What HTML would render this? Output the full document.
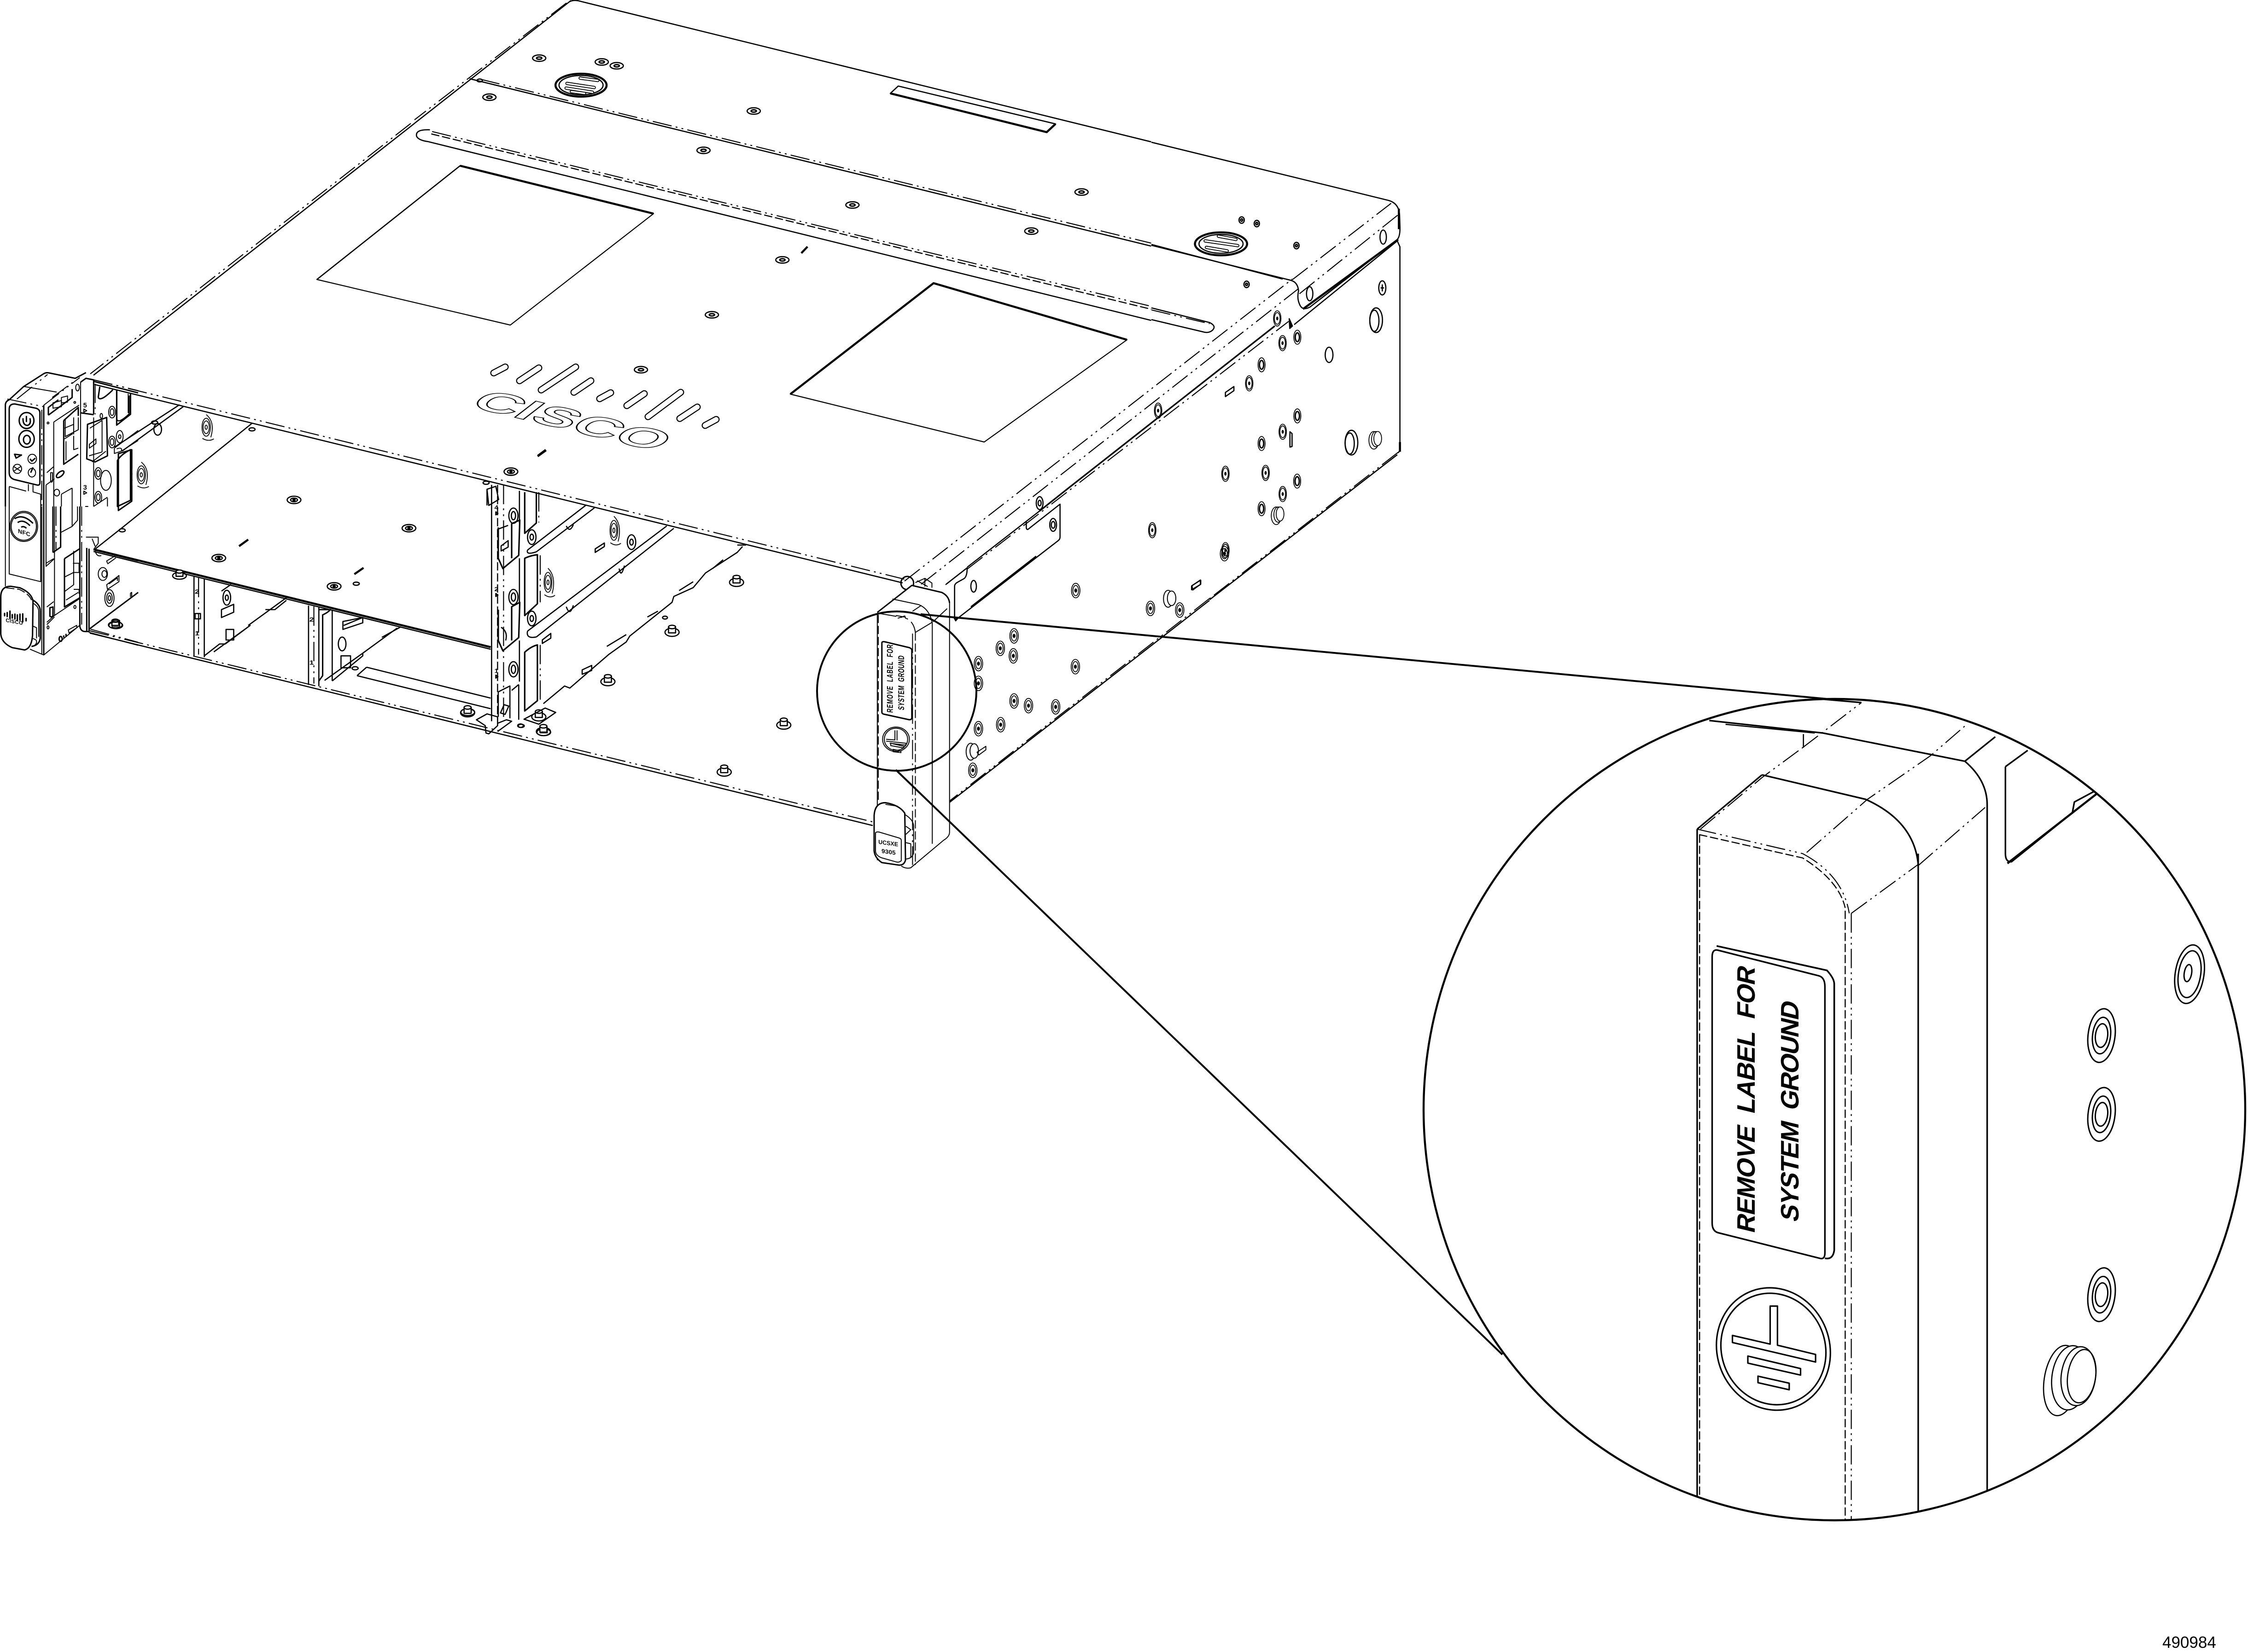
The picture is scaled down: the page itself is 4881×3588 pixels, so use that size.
<!DOCTYPE html>
<html><head><meta charset="utf-8"><style>
html,body{margin:0;padding:0;background:#fff}
svg{display:block}
svg *{vector-effect:non-scaling-stroke}
g,path,line,ellipse,circle,polygon,rect{fill:none;stroke:#000;stroke-width:2.6;stroke-linejoin:round;stroke-linecap:butt}
.t,.t *{stroke-width:4.5}
.n,.n *{stroke-width:1.8}
.c path,.c ellipse,.c polygon,.c rect{stroke-width:2}
.c .t{stroke-width:3}
.w{fill:#fff}
.k{fill:#000}
.d,.d *{stroke-dasharray:42 9 4 9 4 9;stroke-width:2.2}
.e,.e *{stroke-dasharray:18 6;stroke-width:2.4}
.pa{stroke-width:7;stroke-linecap:round}
.pb{stroke-width:3.4;stroke:#fff;stroke-linecap:round}
text{font-family:"Liberation Sans",sans-serif;fill:#000;stroke:none}
</style></head><body>
<svg xmlns="http://www.w3.org/2000/svg" width="4881" height="3588" viewBox="0 0 4881 3588">
<rect x="0" y="0" width="4881" height="3588" style="fill:#fff;stroke:none"/>
<defs>
<clipPath id="cp"><circle cx="3983" cy="2410" r="892"/></clipPath>
<g id="t6"><ellipse rx="15" ry="11"/><ellipse rx="6" ry="4" style="stroke-width:3"/></g>
<g id="s5" class="n"><ellipse rx="21" ry="26"/><ellipse rx="16" ry="20"/><ellipse rx="4" ry="5" class="k"/></g>
<g id="h5" class="n"><ellipse rx="20" ry="24"/><ellipse rx="12" ry="15" style="stroke-width:3"/></g>
<g id="b5" class="n"><ellipse cx="-8" cy="4" rx="28" ry="30"/><ellipse cx="3" cy="0" rx="24" ry="26"/><ellipse cx="14" cy="-2" rx="22" ry="24" class="w"/></g>
<g id="s3" class="n"><ellipse rx="12" ry="31"/><ellipse rx="8" ry="22"/><ellipse rx="3" ry="7" class="k"/></g>
<g id="f2"><ellipse rx="20" ry="14"/><rect x="-10" y="-18" width="20" height="20" class="w"/><ellipse cy="-18" rx="10" ry="6" class="w"/></g>
<g id="p1"><ellipse rx="18" ry="14"/><ellipse rx="9" ry="7"/><ellipse rx="3" ry="3" class="k"/></g>
<g id="f1"><ellipse rx="18" ry="13"/><rect x="-9" y="-16" width="18" height="18" class="w"/><ellipse cy="-16" rx="9" ry="6" class="w"/></g>
<g id="sw" class="n"><ellipse rx="11" ry="34"/><ellipse rx="8" ry="24"/><ellipse rx="3" ry="8"/><path d="M0,-48 Q24,-20 12,38 M-10,42 Q6,56 20,44"/></g>
</defs>

<!-- Left top edge -->
<path d="M900,268 L203,815"/><path class="d" d="M892,268 L196,812"/>

<!-- Top face Z6 -->
<g transform="translate(900,0) scale(.9566,.6378)">
<path d="M352,6 Q358,0 370,2 L1672,483"/>
<path d="M355,2 L0,420"/><path class="d" d="M345,10 L0,408"/>
<path d="M125,268 L1672,838"/><path class="d" d="M150,270 L1672,828"/>
<ellipse cx="148" cy="274" rx="6" ry="5"/>
<path d="M35,442 Q0,440 5,465 Q10,478 30,482 L1672,1091"/>
<path class="d" d="M40,448 L920,770"/><path class="e" d="M38,456 L1672,1053"/><path class="d" d="M920,770 L1672,1043"/>
<polygon points="1098,293 1455,422 1435,450 1080,318"/>
<path class="t" d="M1080,318 L1435,450 1455,422"/>
<use href="#t6" x="283" y="198"/><use href="#t6" x="425" y="211"/><use href="#t6" x="459" y="224"/><use href="#t6" x="170" y="331"/><use href="#t6" x="770" y="378"/><use href="#t6" x="656" y="512"/><use href="#t6" x="994" y="698"/><use href="#t6" x="1514" y="654"/><use href="#t6" x="1400" y="787"/><use href="#t6" x="835" y="885"/><use href="#t6" x="675" y="1072"/><use href="#t6" x="514" y="1259"/>
<ellipse cx="378" cy="290" rx="58" ry="39" class="t"/><ellipse cx="378" cy="290" rx="50" ry="33"/>
<path class="pa" d="M376,266 L416,274 M346,284 L408,298 M344,300 L404,314 M356,312 L386,318"/>
<path class="pb" d="M376,266 L416,274 M346,284 L408,298 M344,300 L404,314 M356,312 L386,318"/>
<path class="t" d="M878,862 L892,840"/><path class="t" d="M280,1552 L298,1532"/>
</g>
<polygon points="999,360 1419,464 1108,706 688,607" style="stroke-width:2.2"/>
<path class="t" d="M999,360 L1419,464"/><path d="M999,360 L688,607"/>
<polygon points="2027,615 2447,738 2137,960 1716,856" style="stroke-width:2.2"/>
<path class="t" d="M1716,856 L2027,615 2447,738"/>

<!-- Cisco logo -->
<path d="M1072,810 L1097,797 M1128,827 L1170,799 M1175,847 L1250,797 M1246,852 L1283,827 M1302,866 L1326,853 M1361,881 L1399,855 M1407,905 L1478,852 M1476,909 L1514,884 M1531,924 L1555,911" style="stroke-width:15;stroke-linecap:round"/>
<path d="M1072,810 L1097,797 M1128,827 L1170,799 M1175,847 L1250,797 M1246,852 L1283,827 M1302,866 L1326,853 M1361,881 L1399,855 M1407,905 L1478,852 M1476,909 L1514,884 M1531,924 L1555,911" style="stroke-width:10.5;stroke:#fff;stroke-linecap:round"/>
<text transform="matrix(1.29,.31,-.667,.514,1016,882)" font-size="100" font-weight="bold" style="fill:#fff;stroke:#000;stroke-width:2.4">CISCO</text>

<!-- Right rear Z5 -->
<g transform="translate(2500,300) scale(.3827,.6378)">
<path d="M0,14 L1345,212 Q1405,222 1408,262 L1410,300 Q1412,335 1395,345 L900,575 Q855,590 840,565 Q825,545 835,520 Q830,490 790,484 L0,365"/>
<path d="M0,362 L745,480"/>
<path class="d" d="M800,482 L1360,222"/>
<path class="d" d="M840,530 L1398,262"/>
<path d="M810,635 L1395,350 L1410,370 V1060 Q1410,1068 1395,1072"/>
<path class="t" d="M860,582 L1400,345"/>
<path class="t" d="M1410,1035 V1068"/><path class="t" d="M1404,240 V310"/>
<path class="d" d="M1395,1072 L330,1568"/>
<path d="M1395,1078 L330,1572"/>
<path class="k" d="M782,615 L800,640 L785,648 Z"/>
<path d="M0,578 L330,628 Q372,640 345,655 Q325,665 295,660 L0,618"/>
<path class="d" d="M0,585 L330,632"/>
<use href="#t6" x="512" y="279"/><use href="#t6" x="598" y="291"/><use href="#t6" x="823" y="366"/><use href="#t6" x="540" y="498"/>
<ellipse cx="395" cy="360" rx="148" ry="39" class="t"/><ellipse cx="395" cy="360" rx="125" ry="32"/>
<path class="pa" d="M380,334 L480,345 M305,350 L490,366 M312,372 L430,384"/>
<path class="pb" d="M380,334 L480,345 M305,350 L490,366 M312,372 L430,384"/>
<use href="#s5" x="714" y="614"/><use href="#s5" x="744" y="698"/><use href="#h5" x="828" y="678"/><use href="#h5" x="625" y="772"/><use href="#s5" x="555" y="835"/><use href="#h5" x="828" y="946"/><use href="#s5" x="745" y="1000"/><use href="#h5" x="625" y="1040"/><use href="#s5" x="420" y="1143"/><use href="#s5" x="648" y="1140"/><use href="#h5" x="827" y="1168"/><use href="#s5" x="745" y="1212"/><use href="#h5" x="625" y="1262"/><use href="#s5" x="420" y="1403"/><use href="#s5" x="38" y="928"/><use href="#s5" x="5" y="1335"/>
<use href="#b5" x="716" y="1282"/><use href="#b5" x="1270" y="1025"/>
<ellipse cx="1135" cy="1037" rx="36" ry="42"/><ellipse cx="1125" cy="1040" rx="26" ry="36"/><ellipse cx="1275" cy="620" rx="36" ry="42"/><ellipse cx="1265" cy="622" rx="26" ry="36"/>
<ellipse cx="1008" cy="738" rx="22" ry="26"/><ellipse cx="898" cy="530" rx="18" ry="24"/><ellipse cx="1315" cy="337" rx="18" ry="24"/>
<ellipse cx="1310" cy="510" rx="20" ry="24"/><path d="M1300,510 H1320 M1310,498 V522"/>
<path d="M420,866 L468,846 V860 L420,880 Z"/><path d="M786,1000 L798,1006 V1050 L786,1052 Z"/><path d="M228,1525 L278,1505 V1520 L228,1538 Z"/>
</g>

<!-- Long edges -->
<path class="d" d="M203,825 L1964,1258"/>
<path d="M205,835 L1960,1266"/>
<path class="d" d="M195,1370 L1895,1785"/>
<path d="M195,1375 L1895,1793"/>
<path class="d" d="M1964,1262 L2806,606"/>
<path class="d" d="M2000,1269 L2818,628"/>
<path d="M2100,1232 L2257,1110"/><path class="t" d="M2257,1110 L2320,1060" style="stroke-width:3.4"/>
<path d="M2320,1060 L2768,708" style="stroke-width:3.4"/>
<path class="d" d="M2100,1236 L2798,698"/>
<path class="d" d="M2000,1367 L2060,1320"/><path class="d" d="M2053,1270 L2100,1233"/>
<path class="d" d="M2626,1300 L2060,1741"/><path d="M2626,1304 L2060,1744"/>

<!-- Bracket -->
<g transform="translate(2000,1060) scale(.3333)">
<path d="M218,855 V640 Q218,625 235,615 L280,590 Q300,575 300,520 L165,625"/>
<path class="k" d="M215,845 L240,848 L225,865 Z"/>
<path d="M230,855 L890,345 Q905,335 905,320 V105 L695,270 Q685,270 685,255 V220"/>
<path class="t" d="M325,775 L750,445" style="stroke-width:3.6"/>
<ellipse cx="342" cy="640" rx="18" ry="38"/>
<ellipse cx="860" cy="240" rx="22" ry="42"/><ellipse cx="860" cy="240" rx="12" ry="22"/>
<ellipse cx="772" cy="98" rx="22" ry="42"/><ellipse cx="772" cy="98" rx="10" ry="18"/>
</g>

<!-- Bay center Z1 -->
<g transform="translate(0,750) scale(.8291,.574)">
<path d="M660,295 L320,690 250,770"/>
<path class="t" d="M245,772 L1285,1142"/><path d="M245,780 L1285,1150"/>
<use href="#p1" x="770" y="585"/><use href="#p1" x="1071" y="692"/><use href="#p1" x="573" y="805"/><use href="#p1" x="875" y="912"/><use href="#p1" x="1338" y="478"/>
<ellipse cx="933" cy="902" rx="8" ry="6"/><ellipse cx="660" cy="318" rx="8" ry="6"/><ellipse cx="320" cy="700" rx="8" ry="6"/><ellipse cx="1273" cy="520" rx="8" ry="6"/><ellipse cx="405" cy="292" rx="8" ry="6"/>
<path class="t" d="M626,760 L650,735 M928,866 L952,842 M1408,420 L1430,397"/>
<use href="#sw" x="540" y="310"/><use href="#sw" x="370" y="490"/>
<path d="M300,385 L470,225 M320,400 L480,232"/>
<ellipse cx="413" cy="318" rx="10" ry="22"/>
<path d="M306,170 V280 Q310,298 338,260 V190"/><path class="d" d="M342,185 V270"/>
<path class="t" d="M310,410 V625 L345,590 V395 Z" style="stroke-width:3"/>
<use href="#f1" x="470" y="872"/>
<use href="#f1" x="302" y="1058"/>
<path d="M508,875 V1175 M535,885 V1180"/><path class="d" d="M520,880 V1170"/>
<text x="510" y="940" font-size="22" font-weight="bold">2</text><text x="510" y="1098" font-size="22" font-weight="bold">1</text>
<rect x="511" y="1015" width="14" height="20"/>
<path d="M580,930 L605,905 M580,1030 V1000 L612,980 V1010 Z"/>
<ellipse cx="594" cy="955" rx="10" ry="28"/><ellipse cx="594" cy="955" rx="4" ry="10"/>
<path d="M535,1175 L575,1130 590,1130 655,1060 L560,1160"/>
<rect x="592" y="1075" width="20" height="40"/>
<path d="M650,1060 L750,955 M695,1000 L720,1000 L750,965"/>
<path d="M808,985 V1285 M835,990 V1290"/><path class="d" d="M822,988 V1280"/>
<text x="810" y="1045" font-size="22" font-weight="bold">2</text><text x="810" y="1208" font-size="22" font-weight="bold">1</text>
<path class="t" d="M835,1000 H865 Q860,1010 845,1020 V1250 L835,1270" style="stroke-width:3"/>
<path d="M870,1000 V1270"/><ellipse cx="896" cy="1130" rx="10" ry="26"/>
<path d="M900,1060 L950,1030 M898,1075 V1045 L950,1030 V1050 Z"/>
<rect x="893" y="1175" width="25" height="45"/>
<path d="M850,1268 L950,1165 L950,1175 L870,1270"/>
<path d="M950,1165 L1040,1070 M1000,1105 L1050,1065"/>
<path d="M960,1218 L1285,1335 M935,1250 L960,1218 M935,1250 L1285,1375"/>
<ellipse cx="930" cy="1222" rx="8" ry="6"/>
<use href="#f1" x="1225" y="1388"/><use href="#f1" x="1424" y="1464"/>
<ellipse cx="1365" cy="1440" rx="8" ry="6"/>
</g>

<!-- Right bay Z2 -->
<g transform="translate(1000,900) scale(.7653,.6378)">
<path d="M88,240 V1045"/><path class="e" d="M105,240 V1040"/><path class="d" d="M122,240 V1035"/><path d="M167,260 V370 M167,490 V640 M167,770 V910 M165,920 V1040"/>
<path d="M75,255 L100,245 108,290 80,310 Z M75,255 V310"/>
<path style="stroke-width:3.2" d="M107,385 V490 L120,525 165,480 168,360 145,372 V490"/>
<path d="M108,390 L135,378 M115,448 L135,430 V452 L115,465 Z"/>
<path style="stroke-width:3.2" d="M107,665 V770 L120,805 165,760 168,640 145,655 V770"/>
<path d="M115,725 Q135,740 128,770"/>
<path d="M107,945 V1030 M107,945 L140,925 V1035 M165,920 L145,940"/>
<rect x="118" y="990" width="14" height="30" transform="rotate(20 125 1005)"/>
<ellipse cx="150" cy="345" rx="13" ry="26"/><ellipse cx="150" cy="345" rx="6" ry="14"/>
<ellipse cx="150" cy="622" rx="13" ry="26"/><ellipse cx="150" cy="622" rx="6" ry="14"/>
<ellipse cx="150" cy="868" rx="13" ry="26"/><ellipse cx="150" cy="868" rx="6" ry="14"/>
<text x="96" y="324" font-size="20" font-weight="bold">4</text><text x="96" y="602" font-size="20" font-weight="bold">2</text><text x="96" y="880" font-size="20" font-weight="bold">1</text>
<path d="M100,332 L106,337 L100,342 Z M100,610 L106,615 L100,620 Z M100,888 L106,893 L100,898 Z"/>
<path style="stroke-width:3.2" d="M182,265 V405 L215,370 V265"/><path class="d" d="M222,265 V368"/>
<path style="stroke-width:3.2" d="M182,490 V685 L218,645 V478 Q200,480 182,490 Z"/><path class="d" d="M226,480 V640"/>
<path style="stroke-width:3.2" d="M182,810 V1010 L218,975 V785 Q200,790 182,810 Z"/><path class="d" d="M226,785 V975"/>
<path d="M190,462 L355,310 M215,468 L380,318 M190,462 Q185,480 215,468"/>
<path d="M190,738 L585,380 M215,758 L605,388 M190,738 Q185,765 215,758"/>
<path d="M300,380 Q310,405 320,375 M450,525 Q455,560 465,515 M300,655 Q310,690 320,650"/>
<use href="#sw" x="435" y="395"/><use href="#sw" x="248" y="572"/>
<ellipse cx="485" cy="435" rx="12" ry="25"/><ellipse cx="485" cy="435" rx="5" ry="10"/>
<ellipse cx="202" cy="418" rx="12" ry="25"/><ellipse cx="202" cy="418" rx="5" ry="10"/>
<ellipse cx="202" cy="695" rx="12" ry="25"/><ellipse cx="202" cy="695" rx="5" ry="10"/>
<path d="M382,458 L408,438 V450 L382,470 Z M232,768 L256,746 V762 L232,780 Z"/>
<path d="M235,985 L295,925 310,932 420,818 470,775 480,755 600,640 605,620 660,590 695,540 785,470 800,450 M785,445 L810,445"/>
<path d="M345,870 L372,855 V872 L345,885 Z M415,790 L470,750 M530,690 L560,670 M620,600 L660,570 M715,525 L745,495"/>
<use href="#f2" x="783" y="572"/><use href="#f2" x="600" y="742"/><use href="#f2" x="418" y="910"/><use href="#f2" x="917" y="1058"/><use href="#f2" x="748" y="1218"/><use href="#f2" x="235" y="1080"/><use href="#f2" x="222" y="1030"/><use href="#f2" x="20" y="1016"/>
<ellipse cx="580" cy="692" rx="7" ry="5"/><ellipse cx="170" cy="1060" rx="8" ry="6"/>
<path d="M180,1038 L240,1000 270,1015 222,1055 Z"/>
<path d="M45,1040 L75,1020 105,1030 105,1060 L80,1088 72,1085 70,1060 Z"/>
<path d="M105,1052 L130,1040 145,1045 105,1080"/>
</g>

<!-- Left cap Z8 -->
<g class="c" transform="translate(0,800) scale(.3333)">
<path class="t" d="M35,900 V240 Q35,215 60,205 L155,118 L285,35 Q300,25 320,30 L490,65 L560,28"/>
<path class="d" d="M110,200 L310,40"/><path d="M155,118 L370,155"/>
<path class="d" d="M48,200 L285,250"/><path class="d" d="M285,240 L520,60"/><path class="d" d="M340,190 L475,90"/>
<path class="t" d="M60,265 Q60,232 95,232 L235,260 Q260,268 260,290 V745 Q260,765 240,760 L95,725 Q60,715 60,680 Z"/>
<ellipse cx="173" cy="340" rx="48" ry="52" class="t"/><ellipse cx="173" cy="460" rx="50" ry="55" class="t"/><ellipse cx="175" cy="465" rx="22" ry="28" class="t"/>
<path class="t" d="M150,325 Q148,370 178,372 Q205,365 195,325 M172,310 V350"/>
<ellipse cx="210" cy="590" rx="28" ry="30"/><path class="t" d="M195,590 L208,605 L230,585"/>
<ellipse cx="113" cy="655" rx="28" ry="30"/><path d="M90,640 L135,670 M135,640 L90,670"/>
<ellipse cx="208" cy="680" rx="24" ry="28"/><path class="t" d="M215,645 L200,680"/>
<path class="t" d="M95,560 L140,565 L105,585 Z"/>
<path d="M60,770 L170,800 M60,770 V900 M185,755 V800 M215,760 V805 L265,820 V900"/>
<path class="t" d="M285,240 V900"/><path class="d" d="M272,270 V900"/>
<path d="M300,760 V900 M300,760 L355,720 M305,680 L350,640"/>
<path d="M350,350 L515,240 M350,350 V900"/>
<path class="t" d="M315,305 L470,190 V135 M315,305 V255 L380,205"/>
<path d="M345,225 L400,210 V250 L345,260 Z"/><path d="M400,190 L440,180 V220 L400,225 Z"/>
<ellipse cx="505" cy="125" rx="12" ry="22"/>
<path class="t" d="M415,340 V625 L510,560 M415,340 L510,255 V310"/>
<path d="M425,330 V445 L510,400 V320 M430,475 V600 M480,320 V430 M480,440 V530 L510,520 M420,390 L480,365 M420,460 L475,425"/>
<ellipse cx="392" cy="690" rx="30" ry="14" transform="rotate(-40 392 690)" class="t"/>
<path d="M400,820 L470,780 M400,820 V900 M470,780 V900"/>
<ellipse cx="370" cy="810" rx="18" ry="22"/>
<path d="M330,680 V740 Q338,745 342,735 V680 Z"/>
<ellipse cx="313" cy="356" rx="6" ry="6"/><ellipse cx="487" cy="222" rx="6" ry="6"/>
<path class="w" d="M525,900 V90 L560,65 L600,70 L610,300 L525,290 Z" style="fill:#fff;stroke:none"/>
<path class="t" d="M525,90 L560,65 L610,75 V300"/><path d="M525,90 V900 M610,320 V900"/>
<path class="d" d="M620,100 V300"/>
<text x="542" y="255" font-size="44" font-weight="bold">5</text><text x="542" y="790" font-size="44" font-weight="bold">3</text>
<path d="M546,265 L565,276 L546,286 Z M546,800 L565,811 L546,821 Z"/>
<path class="t" d="M525,290 L610,302"/>
<path class="t" d="M610,85 L900,160"/><path class="d" d="M610,75 L900,145"/>
<path class="t" d="M640,190 L650,120 M640,190 Q655,220 735,140"/>
<ellipse cx="730" cy="285" rx="22" ry="38"/><ellipse cx="730" cy="285" rx="12" ry="22"/>
<ellipse cx="730" cy="480" rx="22" ry="38"/><ellipse cx="730" cy="480" rx="12" ry="22"/>
<ellipse cx="640" cy="685" rx="22" ry="38"/><ellipse cx="640" cy="685" rx="12" ry="22"/>
<ellipse cx="640" cy="840" rx="22" ry="38"/><ellipse cx="640" cy="840" rx="12" ry="22"/>
<ellipse cx="780" cy="445" rx="22" ry="40"/><ellipse cx="780" cy="445" rx="8" ry="12"/>
<ellipse cx="690" cy="730" rx="35" ry="65"/><ellipse cx="660" cy="310" rx="8" ry="16"/>
<path class="t" d="M760,140 V370 L850,300 V160"/><path class="d" d="M835,165 V300"/>
<path class="t" d="M570,365 L695,320 L700,570 L620,610 L565,590 Z"/><path d="M585,390 L665,340 V545 M580,570 L665,545 M600,610 L690,540"/>
<polygon points="582,495 625,460 625,490 582,520"/>
<path d="M745,520 L900,405 M790,540 L900,470 M745,520 V555 L790,540 Q800,510 760,525"/>
<path class="t" d="M765,600 Q790,560 850,530 V860 L765,900 Z"/><path class="d" d="M860,530 V860"/>
<path d="M610,900 L700,840"/><path d="M700,845 V900"/>
</g>

<!-- Left cap Z9 -->
<g class="c" transform="translate(0,1100) scale(.3333)">
<path d="M35,0 V520 M60,0 V440 L265,490 V0"/>
<path d="M272,0 V960"/><path class="t" d="M285,0 V968"/>
<ellipse cx="155" cy="130" rx="90" ry="98"/><ellipse cx="155" cy="130" rx="82" ry="90"/>
<path class="t" d="M95,80 Q150,45 215,110 M115,105 Q150,80 195,125 M138,135 Q155,125 172,142"/>
<text transform="matrix(1,.3,0,1,117,172)" font-size="38" font-weight="bold" style="letter-spacing:1px">NFC</text>
<path d="M300,0 V390 L355,340 V0 M300,370 L350,340"/>
<path class="t" d="M345,0 V300 M395,0 V265 L345,300"/><path class="d" d="M365,0 V280"/>
<path d="M395,170 L470,130 V0 M505,0 V90 L470,130"/>
<path d="M355,340 V710 L520,600"/>
<path class="t" d="M420,340 L520,275 M420,340 V655 L520,595"/>
<path d="M480,290 V510 L420,555 M475,370 H515 V430 H475 M420,460 L480,430 M480,540 H515 V570 M430,610 L510,560"/>
<path d="M305,655 L350,620 M305,770 L355,720 M305,755 L355,710"/>
<path class="t" d="M325,660 V715 Q335,725 345,712 V655 Z"/>
<path class="t" d="M520,0 V780 Q525,815 555,815 H580"/><path class="d" d="M532,0 V770"/>
<path d="M195,930 L285,968 L525,770"/>
<path class="t" d="M565,270 V810"/><path class="t" d="M580,275 V815"/>
<path class="t" d="M620,285 L900,355"/><path d="M620,290 Q630,330 660,320"/>
<path class="t" d="M580,800 L900,560"/>
<path d="M580,800 V820 L900,905"/><path class="d" d="M590,800 L900,885"/>
<path d="M700,370 L695,355 L750,322 M700,375 L755,335"/>
<path d="M695,510 L775,450 V490 L700,540 Z M710,505 L765,465 V485"/>
<ellipse cx="670" cy="440" rx="30" ry="42"/><ellipse cx="680" cy="440" rx="16" ry="22"/>
<ellipse cx="713" cy="597" rx="30" ry="55"/><ellipse cx="713" cy="597" rx="18" ry="34"/><ellipse cx="713" cy="597" rx="8" ry="16"/>
<path d="M850,590 V565 L858,560 V590"/>
<ellipse cx="755" cy="775" rx="45" ry="22"/><rect x="730" y="745" width="50" height="40"/><ellipse cx="755" cy="745" rx="25" ry="8"/>
<path d="M555,0 L575,0 M560,200 H640 V240 L610,280 M600,210 L620,260"/>
<polygon points="445,805 500,775 500,790 450,825"/>
<ellipse cx="395" cy="863" rx="10" ry="16" class="t"/><path class="t" d="M415,840 V855 M430,830 V848"/>
<ellipse cx="313" cy="788" rx="6" ry="10"/><ellipse cx="488" cy="655" rx="7" ry="10"/>
<path d="M215,610 Q262,640 262,680 L262,860 Q255,905 205,912" class="t"/>
<path d="M215,630 Q250,650 252,680 V850"/>
<path d="M215,780 L238,790 V860 M215,860 L235,870 Q245,890 225,905"/>
<path class="t" style="fill:#fff" d="M5,590 Q5,520 70,520 L130,530 Q210,565 215,620 L212,840 Q205,925 160,935 L80,920 Q10,890 5,830 Z"/>
<path class="e" d="M40,530 L125,540 Q190,570 205,610"/>
<path d="M30,697 V712 M47,692 V717 M65,682 V730 M80,705 V727 M97,702 V733 M113,707 V743 M130,702 V740 M148,700 V752 M170,730 V745" style="stroke-width:3.2;stroke-linecap:round"/>
<text transform="matrix(1,.18,0,1,37,752)" font-size="34" font-weight="bold" style="letter-spacing:1px">CISCO</text>
</g>

<!-- Right cap Z3 -->
<g class="c" transform="translate(1800,1200) scale(.7653,.5102)">
<ellipse cx="222" cy="130" rx="18" ry="28" class="t"/>
<path style="fill:#fff;stroke:none" d="M137,258 L235,140 L320,170 Q340,185 342,215 V1190 L230,1342 Q220,1348 205,1335 L137,1310 Z"/>
<path d="M245,128 L272,110 L292,130 V150 M272,110 V145 M250,120 L280,145"/>
<path class="t" d="M137,255 L235,140 L320,170 Q340,185 342,215"/>
<path d="M342,215 V1190 Q342,1210 325,1225 L232,1342 Q220,1348 205,1335"/>
<path d="M180,198 L255,222 Q285,240 293,300 V1240"/>
<path d="M137,258 V1310"/><path class="e" d="M140,265 V1065"/>
<path class="d" d="M137,258 L215,278 Q240,290 245,340"/>
<path class="d" d="M237,345 V1330"/><path class="e" d="M245,340 V1330"/>
<path class="d" d="M245,340 L295,295 M295,295 L340,232 M237,250 L262,225"/>
<path d="M195,280 L215,270 L218,282 M190,268 L215,275"/>
<path class="t" d="M150,385 Q150,378 158,380 L228,405 Q235,410 235,415 V705 Q233,714 225,711 L155,688 Q150,686 150,680 Z"/>
<text transform="matrix(0,-1,1,.2,181,683)" font-size="24" font-weight="bold" textLength="290" lengthAdjust="spacing">REMOVE&#160;&#160;LABEL&#160;&#160;FOR</text>
<text transform="matrix(0,-1,1,.2,213,672)" font-size="24" font-weight="bold" textLength="232" lengthAdjust="spacing">SYSTEM&#160;&#160;GROUND</text>
<ellipse cx="190" cy="795" rx="38" ry="52"/><ellipse cx="190" cy="795" rx="33" ry="47"/>
<path d="M187,757 V800 M193,757 V800 M162,795 L187,798 M162,803 L218,812 L218,820 L172,812 M175,812 L212,825 L212,832 L175,822 Z M182,838 L204,845 L204,852 L182,848 Z"/>
<path class="t" style="fill:#fff" d="M128,1120 Q130,1065 160,1065 Q200,1075 215,1110 L217,1310 Q212,1335 195,1330 L150,1320 Q130,1300 128,1270 Z"/>
<path d="M160,1072 L195,1080"/>
<path d="M215,1115 Q242,1140 240,1170 V1280 Q235,1305 215,1305 M218,1165 L232,1180 L218,1200 M218,1235 L232,1240 V1300"/>
<path d="M132,1195 Q132,1188 142,1190 L198,1215 Q205,1218 205,1225 V1312 Q198,1322 188,1316 L150,1300 Q132,1290 132,1270 Z"/>
<text transform="matrix(1,.2,0,1.25,140,1240)" font-size="20" font-weight="bold" textLength="56" lengthAdjust="spacingAndGlyphs">UCSXE</text>
<text transform="matrix(1,.2,0,1.25,149,1279)" font-size="20" font-weight="bold" textLength="40" lengthAdjust="spacingAndGlyphs">9305</text>
<use href="#s3" x="700" y="162"/><use href="#s3" x="912" y="238"/><use href="#s3" x="995" y="245"/><use href="#s3" x="525" y="355"/><use href="#s3" x="486" y="408"/><use href="#s3" x="523" y="440"/><use href="#s3" x="424" y="473"/><use href="#s3" x="424" y="557"/><use href="#s3" x="699" y="486"/><use href="#s3" x="525" y="632"/><use href="#s3" x="566" y="652"/><use href="#s3" x="643" y="657"/><use href="#s3" x="424" y="750"/><use href="#s3" x="487" y="733"/><use href="#s3" x="408" y="927"/><use href="#s3" x="1122" y="5"/>
<ellipse cx="962" cy="197" rx="13" ry="36"/><ellipse cx="972" cy="195" rx="12" ry="31" class="w"/>
<ellipse cx="402" cy="848" rx="13" ry="36"/><ellipse cx="412" cy="845" rx="12" ry="31" class="w"/>
<path d="M420,850 L445,825 V840 L425,862 Z"/>
<path d="M1030,140 L1055,118 V135 L1032,160 Z"/>
</g>

<!-- Callouts -->
<circle cx="1947" cy="1501" r="173" style="stroke-width:4"/>
<path d="M1999,1334 L4041,1525" style="stroke-width:4"/>
<path d="M1945,1672 L3262,2942" style="stroke-width:4"/>

<!-- Magnified circle -->
<circle cx="3983" cy="2410" r="892" class="w" style="fill:#fff;stroke-width:4.4"/>
<g clip-path="url(#cp)"><g transform="translate(3500,1500) scale(.8807,1.1798)">
<path d="M240,55 L520,78 L870,130 Q925,165 925,210 V1480" style="stroke-width:3.4"/>
<path d="M280,62 L500,78"/>
<path d="M0,0 L280,0 L615,22" style="stroke-width:3.4"/>
<path d="M755,300 V1510" style="stroke-width:3.4"/>
<path d="M370,155 L625,200 Q745,240 755,320" style="stroke-width:3.4"/>
<path d="M210,255 L370,155" style="stroke-width:3.4"/><path class="d" d="M218,255 L370,160 L470,105"/>
<path class="e" d="M216,265 V1490"/><path d="M210,255 V1490" style="stroke-width:3.4"/>
<path class="d" d="M210,255 L470,300 Q570,340 585,410"/><path class="e" d="M215,265 L470,308 Q560,350 575,400"/>
<path class="e" d="M575,405 V1530"/><path class="d" d="M590,410 V1530"/>
<path class="d" d="M590,410 L755,320 M755,322 L920,215 M480,298 L630,200 L785,120 L875,62 M470,105 L615,22"/>
<path d="M472,80 V105"/><path d="M870,130 L945,85" style="stroke-width:3.4"/>
<path d="M970,140 L1025,110 M970,140 V300 Q970,316 985,315 L1135,225 L1140,205 L1190,185" style="stroke-width:3.4"/>
<path d="M975,318 L1195,190" style="stroke-width:4.5"/>
<path d="M258,470 L530,515 Q548,530 548,540 V1030 Q545,1048 525,1045" style="stroke-width:3.6"/>
<path d="M247,490 Q247,475 262,478 L510,525 Q525,528 525,545 V1035 Q525,1048 512,1045 L262,998 Q247,995 247,980 Z" style="stroke-width:3.4"/>
<ellipse cx="398" cy="1212" rx="141" ry="112" transform="rotate(8 398 1212)" style="stroke-width:3.2"/>
<ellipse cx="398" cy="1212" rx="130" ry="102" transform="rotate(8 398 1212)" style="stroke-width:3.2"/>
<path d="M390,1133 H408 V1205 L502,1222 V1236 L297,1200 V1187 L390,1203 Z" style="stroke-width:3.2"/>
<path d="M335,1225 L465,1248 V1260 L335,1238 Z M360,1262 L437,1275 V1287 L360,1274 Z" style="stroke-width:3.2"/>
<g>
<ellipse cx="1207" cy="635" rx="33" ry="50" transform="rotate(12 1207 635)" style="stroke-width:3"/><ellipse cx="1207" cy="635" rx="22" ry="34" transform="rotate(12 1207 635)" style="stroke-width:3"/><ellipse cx="1207" cy="635" rx="15" ry="22" transform="rotate(12 1207 635)" style="stroke-width:3"/>
<ellipse cx="1207" cy="780" rx="33" ry="50" transform="rotate(12 1207 780)" style="stroke-width:3"/><ellipse cx="1207" cy="780" rx="22" ry="34" transform="rotate(12 1207 780)" style="stroke-width:3"/><ellipse cx="1207" cy="780" rx="15" ry="22" transform="rotate(12 1207 780)" style="stroke-width:3"/>
<ellipse cx="1207" cy="1112" rx="33" ry="50" transform="rotate(12 1207 1112)" style="stroke-width:3"/><ellipse cx="1207" cy="1112" rx="22" ry="34" transform="rotate(12 1207 1112)" style="stroke-width:3"/><ellipse cx="1207" cy="1112" rx="15" ry="22" transform="rotate(12 1207 1112)" style="stroke-width:3"/>
<ellipse cx="1424" cy="522" rx="35" ry="55" transform="rotate(15 1424 522)" style="stroke-width:3"/><ellipse cx="1424" cy="522" rx="27" ry="44" transform="rotate(15 1424 522)" style="stroke-width:3"/><ellipse cx="1420" cy="520" rx="9" ry="16" transform="rotate(15 1420 520)" style="stroke-width:3"/>
<ellipse cx="1108" cy="1270" rx="42" ry="66" transform="rotate(15 1108 1270)"/>
<ellipse cx="1130" cy="1265" rx="45" ry="60" transform="rotate(15 1130 1265)" style="fill:#fff"/>
<ellipse cx="1150" cy="1262" rx="42" ry="55" transform="rotate(15 1150 1262)" style="fill:#fff"/>
<ellipse cx="1158" cy="1262" rx="34" ry="50" transform="rotate(15 1158 1262)"/>
</g>
</g>
<text transform="matrix(0,-1,1,.24,3810,2680)" font-size="55" font-weight="bold" textLength="578" lengthAdjust="spacing">REMOVE&#160;&#160;LABEL&#160;&#160;FOR</text>
<text transform="matrix(0,-1,1,.24,3905,2656)" font-size="55" font-weight="bold" textLength="478" lengthAdjust="spacing">SYSTEM&#160;&#160;GROUND</text>
</g>
<text x="4695" y="3579" font-size="35">490984</text>
</svg>
</body></html>
